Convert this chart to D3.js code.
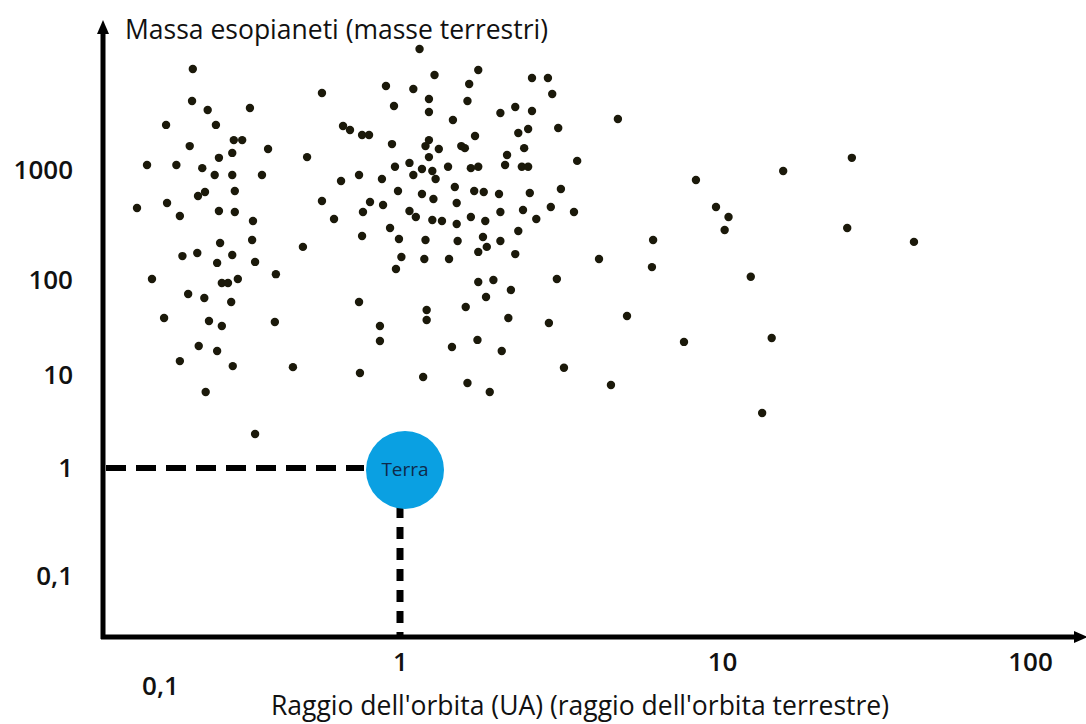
<!DOCTYPE html>
<html>
<head>
<meta charset="utf-8">
<script src="https://cdn.jsdelivr.net/npm/d3@7"></script>
<style>
  html, body { margin: 0; padding: 0; background: #ffffff; }
  svg { display: block; }
</style>
</head>
<body>
<svg id="chart" width="1086" height="724"></svg>
<script>
// Axis tick values (log scales)
const orbitTicks = [0.1, 1, 10, 100];
const massTicks = [0.1, 1, 10, 100, 1000];

// Known exoplanets: orbital radius (AU) and mass (Earth masses), index-paired
const orbitAU = [
  0.137, 0.136, 0.158, 0.237, 0.106, 0.171, 0.203, 0.220, 0.133, 0.282,
  0.200, 0.176, 0.0883, 0.117, 0.150, 0.169, 0.200, 0.266, 0.205, 0.144,
  0.154, 0.0802, 0.107, 0.121, 0.176, 0.205, 0.244, 0.178, 0.242, 0.394,
  0.124, 0.143, 0.173, 0.200, 0.249, 0.0926, 0.181, 0.192, 0.211, 0.304,
  0.131, 0.153, 0.198, 0.104, 0.160, 0.181, 0.301, 0.145, 0.173, 0.121,
  0.201, 0.358, 0.155, 0.249,
  0.473, 0.874, 0.944, 0.579, 0.619, 0.695, 0.743, 0.926, 0.410, 0.953,
  0.568, 0.675, 0.841, 0.981, 0.473, 0.750, 0.850, 0.701, 0.531, 0.909,
  0.695, 0.990,
  1.15, 1.28, 1.75, 2.57, 2.88, 1.10, 1.64, 2.97, 1.23, 1.62,
  1.23, 1.46, 2.05, 2.28, 2.57, 4.75, 2.33, 2.50, 3.10, 1.71,
  1.23, 1.20, 1.32, 1.55, 1.59, 2.43, 2.15, 1.23, 1.07, 1.17,
  1.26, 1.29, 1.10, 1.41, 1.66, 1.75, 2.12, 2.39, 2.50, 3.55,
  1.17, 1.27, 1.48, 1.50, 1.70, 1.82, 2.03, 2.53, 3.16, 1.07,
  1.12, 1.26, 1.35, 1.50, 1.66, 1.84, 2.05, 2.41, 2.94, 2.65,
  3.47, 1.20, 1.51, 1.81, 1.86, 1.75, 2.05, 2.33, 6.11, 1.01,
  1.19, 1.42, 2.28, 4.15, 6.06, 0.962, 1.75, 1.95, 2.21, 3.07,
  1.85, 1.60, 1.21, 1.21, 2.17, 2.90, 5.07, 1.74, 1.45, 2.07,
  1.18, 1.62, 1.90, 3.23, 4.52, 0.675, 0.825, 0.825, 0.681,
  8.30, 15.8, 26.4, 9.58, 10.5, 10.2, 25.5, 42.0, 12.4, 7.62,
  14.5, 13.5
];

const massEarth = [
  8280, 4240, 3510, 3660, 2570, 2570, 1870, 1870, 1650, 1550,
  1430, 1290, 1110, 1110, 1040, 900, 900, 900, 645, 580,
  631, 451, 501, 382, 424, 415, 344, 217, 231, 200,
  165, 176, 143, 169, 146, 102, 93.0, 93.0, 102, 113,
  71.2, 64.6, 58.7, 39.8, 37.0, 32.8, 36.1, 20.2, 17.9, 14.0,
  12.4, 12.1, 6.56, 2.32,
  5010, 5800, 3820, 2510, 2310, 2080, 2080, 1720, 1310, 1070,
  794, 900, 828, 645, 523, 512, 481, 415, 359, 297,
  251, 236,
  12600, 7300, 8110, 6860, 6860, 5450, 6050, 4910, 4420, 4240,
  3370, 2850, 3300, 3740, 3440, 2910, 2170, 2360, 2410, 2040,
  1870, 1650, 1550, 1650, 1580, 1580, 1370, 1310, 1160, 1020,
  979, 828, 900, 1070, 1040, 1070, 1110, 1070, 1070, 1210,
  605, 545, 701, 501, 645, 631, 605, 618, 672, 424,
  374, 351, 344, 323, 374, 344, 415, 433, 461, 359,
  415, 231, 226, 246, 200, 180, 226, 279, 231, 162,
  155, 155, 172, 155, 131, 126, 95.3, 100, 78.5, 102,
  66.2, 52.0, 48.3, 37.9, 39.8, 35.3, 41.8, 23.4, 19.7, 17.9,
  9.52, 8.20, 6.56, 11.9, 7.81, 58.7, 32.8, 22.8, 10.5,
  811, 979, 1290, 461, 374, 285, 297, 222, 107, 22.3,
  24.5, 3.90
];

// Reference planet
const earthOrbit = 1;
const earthMass = 1;
const earthLabel = "Terra";

const xTitle = "Raggio dell'orbita (UA) (raggio dell'orbita terrestre)";
const yTitle = "Massa esopianeti (masse terrestri)";

const planets = orbitAU.map((a, i) => ({ orbit: a, mass: massEarth[i] }));

const svg = d3.select("#chart");
const axisX0 = 103;   // y-axis position
const axisY0 = 637;   // x-axis position

// Hand-spaced logarithmic scales (each decade has its own width)
const x = d3.scaleLog().domain(orbitTicks).range([160, 400, 722, 1030]);
const y = d3.scaleLog().domain(massTicks).range([576, 468, 375, 280, 170]);

const fmt = v => (v < 1 ? String(v).replace(".", ",") : d3.format("d")(v));
const font = "'Open Sans', 'Noto Sans', sans-serif";

// Y tick labels
const gy = svg.append("g")
  .attr("transform", `translate(${axisX0},0)`)
  .call(d3.axisLeft(y).tickValues(massTicks).tickFormat(fmt).tickSize(0).tickPadding(30));
gy.select(".domain").remove();
gy.selectAll("text")
  .attr("fill", "#111")
  .style("font-family", font)
  .style("font-size", "26px")
  .style("font-weight", 600);

// X tick labels
const gx = svg.append("g")
  .attr("transform", `translate(0,${axisY0})`)
  .call(d3.axisBottom(x).tickValues(orbitTicks).tickFormat(fmt).tickSize(0).tickPadding(16));
gx.select(".domain").remove();
gx.selectAll("text")
  .attr("fill", "#111")
  .attr("y", d => (d < 1 ? 40 : 16))
  .style("font-family", font)
  .style("font-size", "26px")
  .style("font-weight", 600);

// Planet dots
svg.append("g")
  .selectAll("circle")
  .data(planets)
  .join("circle")
  .attr("cx", d => x(d.orbit))
  .attr("cy", d => y(d.mass))
  .attr("r", 4.2)
  .attr("fill", "#1b190a");

// Guide lines to the Earth marker
const ex = x(earthOrbit), ey = y(earthMass);
svg.append("line")
  .attr("x1", axisX0 + 3).attr("y1", ey)
  .attr("x2", ex - 36).attr("y2", ey)
  .attr("stroke", "#000").attr("stroke-width", 6)
  .attr("stroke-dasharray", "20,10");
svg.append("line")
  .attr("x1", ex).attr("y1", ey + 38)
  .attr("x2", ex).attr("y2", axisY0)
  .attr("stroke", "#000").attr("stroke-width", 7)
  .attr("stroke-dasharray", "12,9");

// Earth
svg.append("circle")
  .attr("cx", ex + 5).attr("cy", ey + 2)
  .attr("r", 39)
  .attr("fill", "#0aa0e2");
svg.append("text")
  .attr("x", ex + 5).attr("y", ey + 1)
  .attr("dy", "0.35em")
  .attr("text-anchor", "middle")
  .attr("fill", "#0f2a4a")
  .style("font-family", font)
  .style("font-size", "19px")
  .text(earthLabel);

// Axis lines with arrowheads
svg.append("line")
  .attr("x1", axisX0).attr("y1", axisY0 + 2)
  .attr("x2", axisX0).attr("y2", 30)
  .attr("stroke", "#000").attr("stroke-width", 5);
svg.append("path")
  .attr("d", `M${axisX0 - 6},34 L${axisX0},20 L${axisX0 + 6},34 Z`)
  .attr("fill", "#000");
svg.append("line")
  .attr("x1", axisX0 - 2).attr("y1", axisY0)
  .attr("x2", 1076).attr("y2", axisY0)
  .attr("stroke", "#000").attr("stroke-width", 5);
svg.append("path")
  .attr("d", `M1074,${axisY0 - 6} L1088,${axisY0} L1074,${axisY0 + 6} Z`)
  .attr("fill", "#000");

// Axis titles
svg.append("text")
  .attr("x", 125).attr("y", 39)
  .attr("fill", "#111")
  .style("font-family", font)
  .style("font-size", "26.5px")
  .text(yTitle);
svg.append("text")
  .attr("x", 580).attr("y", 715)
  .attr("text-anchor", "middle")
  .attr("fill", "#111")
  .style("font-family", font)
  .style("font-size", "26.5px")
  .text(xTitle);
</script>
</body>
</html>
